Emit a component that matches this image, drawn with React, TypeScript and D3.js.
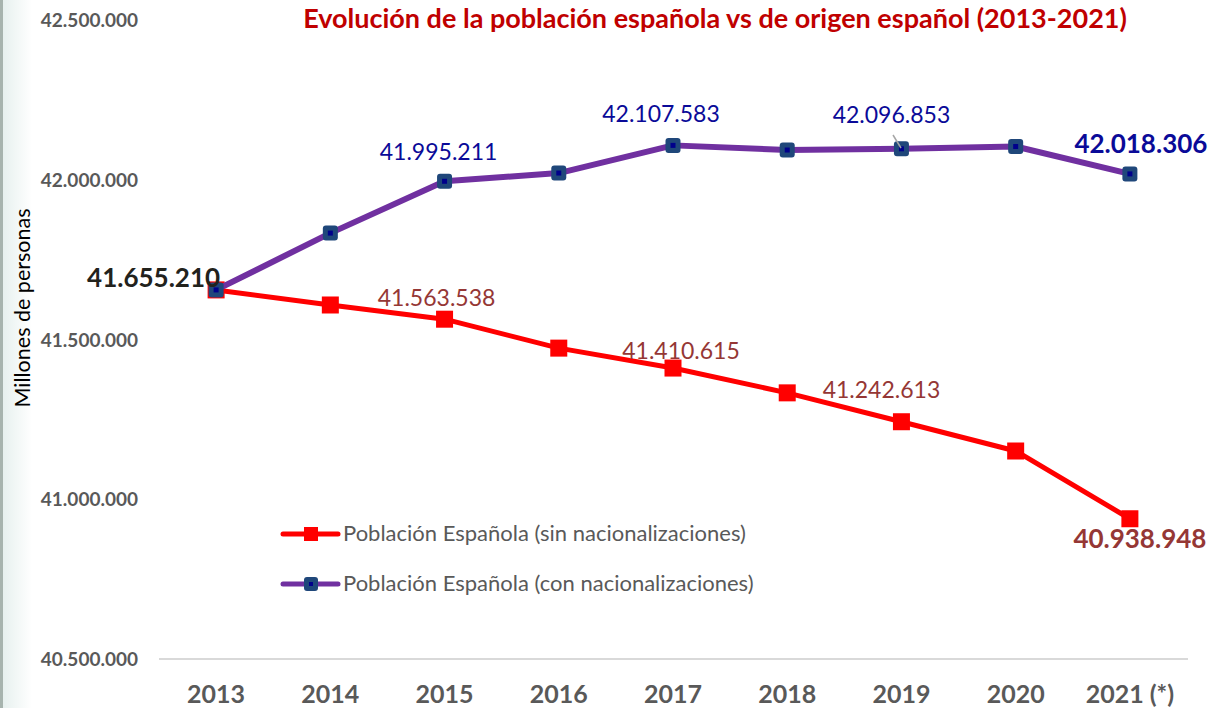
import React from 'react';
import * as d3 from 'd3';

// data
const years = ['2013', '2014', '2015', '2016', '2017', '2018', '2019', '2020', '2021 (*)'];
const sinNacionalizaciones = [41655210, 41608000, 41563538, 41473000, 41410615, 41333000, 41242613, 41151000, 40938948];
const conNacionalizaciones = [41655210, 41833000, 41995211, 42021000, 42107583, 42093000, 42096853, 42104000, 42018306];
const yTicks = [40500000, 41000000, 41500000, 42000000, 42500000];

const title = 'Evolución de la población española vs de origen español (2013-2021)';
const yTitle = 'Millones de personas';
const legendSin = 'Población Española (sin nacionalizaciones)';
const legendCon = 'Población Española (con nacionalizaciones)';

// which points carry a value label, and where (offsets from the point)
const redLabels = [
  { i: 2, dx: -8, dy: -13, anchor: 'middle', bold: false },
  { i: 4, dx: 8, dy: -9, anchor: 'middle', bold: false },
  { i: 6, dx: -20, dy: -24, anchor: 'middle', bold: false },
  { i: 8, dx: 10, dy: 29, anchor: 'middle', bold: true },
];
const purpleLabels = [
  { i: 0, dx: 4, dy: -3, anchor: 'end', bold: true },
  { i: 2, dx: -6, dy: -21, anchor: 'middle', bold: false },
  { i: 4, dx: -12, dy: -23, anchor: 'middle', bold: false },
  { i: 6, dx: -10, dy: -26, anchor: 'middle', bold: false },
  { i: 8, dx: 11, dy: -21, anchor: 'middle', bold: true },
];

const W = 1212;
const H = 708;
const FONT = "Lato, 'Open Sans', sans-serif";

const fmt = (v: number) => d3.format(',')(v).replace(/,/g, '.');

export default function App() {
  const x = d3.scalePoint<string>().domain(years).range([159, 1187]).padding(0.5);
  const y = d3.scaleLinear().domain([40500000, 42500000]).range([659, 20]);

  const line = d3.line<number>()
    .x((_, i) => x(years[i]) as number)
    .y(d => y(d));

  const redColor = '#ff0000';
  const purpleColor = '#7030a0';
  const markerBlue = '#1f477a';
  const innerBlue = '#00008b';

  return (
    <div>
      <style>{`body{margin:0}`}</style>
      <svg width={W} height={H} style={{ display: 'block' }}>
        <defs>
          <linearGradient id="edge" x1="0" x2="1" y1="0" y2="0">
            <stop offset="0" stopColor="#e6f0ee" />
            <stop offset="1" stopColor="#ffffff" />
          </linearGradient>
        </defs>
        <rect x={0} y={0} width={W} height={H} fill="#fff" />
        <rect x={2} y={0} width={30} height={H} fill="url(#edge)" />
        <rect x={0} y={0} width={3} height={H} fill="#a7b4ae" />

        {/* title */}
        <text x={715} y={28} textAnchor="middle" fontFamily={FONT} fontWeight="bold"
          fontSize={27} fill="#c00000">{title}</text>

        {/* y axis labels */}
        {yTicks.map(t => (
          <text key={t} x={138} y={y(t) + 7} textAnchor="end" fontFamily={FONT}
            fontWeight="bold" fontSize={19} fill="#595959">{fmt(t)}</text>
        ))}
        <text transform={`translate(30,308) rotate(-90)`} textAnchor="middle"
          fontFamily={FONT} fontSize={21.5} fill="#000">{yTitle}</text>

        {/* baseline */}
        <line x1={159} x2={1188} y1={y(40500000)} y2={y(40500000)} stroke="#d9d9d9" strokeWidth={2} />

        {/* x labels */}
        {years.map(yr => (
          <text key={yr} x={x(yr)} y={703} textAnchor="middle" fontFamily={FONT}
            fontWeight="bold" fontSize={25} fill="#595959">{yr}</text>
        ))}

        {/* red series */}
        <path d={line(sinNacionalizaciones) || ''} fill="none" stroke={redColor} strokeWidth={5} strokeLinejoin="round" />
        {sinNacionalizaciones.map((v, i) => (
          <rect key={i} x={(x(years[i]) as number) - 8.5} y={y(v) - 8.5} width={17} height={17} fill={redColor} />
        ))}

        {/* purple series */}
        <path d={line(conNacionalizaciones) || ''} fill="none" stroke={purpleColor} strokeWidth={6} strokeLinejoin="round" />
        {conNacionalizaciones.map((v, i) => (
          <g key={i} transform={`translate(${x(years[i])},${y(v)})`}>
            <rect x={-7.5} y={-7.5} width={15} height={15} rx={3} fill={markerBlue} />
            <rect x={-2.5} y={-2.5} width={5} height={5} fill={innerBlue} />
          </g>
        ))}

        {/* leader line for 2019 label */}
        <line x1={893} y1={135} x2={901} y2={148} stroke="#a6a6a6" strokeWidth={1.5} />

        {/* value labels */}
        {redLabels.map(l => (
          <text key={'r' + l.i} x={(x(years[l.i]) as number) + l.dx} y={y(sinNacionalizaciones[l.i]) + l.dy}
            textAnchor={l.anchor} fontFamily={FONT} fontWeight={l.bold ? 'bold' : 'normal'}
            fontSize={l.bold ? 26 : 23} fill="#953735">{fmt(sinNacionalizaciones[l.i])}</text>
        ))}
        {purpleLabels.map(l => (
          <text key={'p' + l.i} x={(x(years[l.i]) as number) + l.dx} y={y(conNacionalizaciones[l.i]) + l.dy}
            textAnchor={l.anchor} fontFamily={FONT} fontWeight={l.bold ? 'bold' : 'normal'}
            fontSize={l.bold ? 26 : 23} fill={l.i === 0 ? '#22221c' : '#0a0a98'}>{fmt(conNacionalizaciones[l.i])}</text>
        ))}

        {/* legend */}
        <g transform="translate(283,534)">
          <line x1={0} x2={55} stroke={redColor} strokeWidth={5} strokeLinecap="round" />
          <rect x={21} y={-7} width={14} height={14} fill={redColor} />
          <text x={60} y={7} fontFamily={FONT} fontSize={22} fill="#595959">{legendSin}</text>
        </g>
        <g transform="translate(283,584)">
          <line x1={0} x2={55} stroke={purpleColor} strokeWidth={5} strokeLinecap="round" />
          <rect x={21} y={-7} width={14} height={14} rx={3} fill={markerBlue} />
          <rect x={26} y={-2} width={4} height={4} fill={innerBlue} />
          <text x={60} y={7} fontFamily={FONT} fontSize={22} fill="#595959">{legendCon}</text>
        </g>
      </svg>
    </div>
  );
}
